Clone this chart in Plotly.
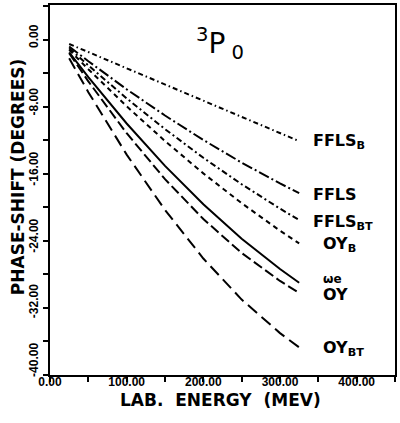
import plotly.graph_objects as go

# ---- data ----
energy = [25, 50, 100, 150, 200, 250, 300, 325]

ffls_b  = [-0.5, -1.47, -3.40, -5.33, -7.27, -9.20, -11.13, -12.1]
ffls    = [-0.8, -2.56, -5.91, -9.04, -11.96, -14.66, -17.14, -18.3]
ffls_bt = [-1.0, -3.06, -6.99, -10.66, -14.08, -17.24, -20.15, -21.5]
oy_b    = [-1.2, -3.52, -7.94, -12.08, -15.94, -19.50, -22.78, -24.3]
we      = [-1.5, -4.45, -9.99, -15.05, -19.63, -23.74, -27.36, -29.0]
oy      = [-1.6, -4.96, -11.15, -16.63, -21.39, -25.44, -28.78, -30.2]
oy_bt   = [-2.2, -6.25, -13.70, -20.30, -26.10, -31.00, -35.00, -36.7]

series = [ffls_b, ffls, ffls_bt, oy_b, we, oy, oy_bt]
series_names = ["FFLS<sub>B</sub>", "FFLS", "FFLS<sub>BT</sub>", "OY<sub>B</sub>",
                "ωe", "OY", "OY<sub>BT</sub>"]
dashes = ["5px,3px,1.5px,3px", "11px,3px,2px,3px", "6px,3px,2px,3px",
          "5px,4px", "solid", "10px,4px", "12px,6px"]

label_x = [341, 341, 341, 354, 354, 354, 354]
label_y = [-12.1, -18.45, -21.8, -24.4, -28.55, -30.4, -36.8]

x_tick_vals = [0, 100, 200, 300, 400]
x_tick_labels = ["0.00", "100.00", "200.00", "300.00", "400.00"]
y_tick_vals = [0, -8, -16, -24, -32, -40]
y_tick_labels = ["0.00", "-8.00", "-16.00", "-24.00", "-32.00", "-40.00"]
# leading non-breaking spaces nudge the rotated labels upward a little
y_tick_pad = [1, 2, 2, 2, 3, 8]
y_tick_text = ["\u00a0" * p + t for p, t in zip(y_tick_pad, y_tick_labels)]

fig = go.Figure()
for ys, name, d in zip(series, series_names, dashes):
    fig.add_trace(go.Scatter(x=energy, y=ys, mode="lines", name=name,
                             line=dict(color="black", width=2, dash=d),
                             showlegend=False, hoverinfo="skip"))

lab_font = dict(family="DejaVu Sans", size=16, color="black", weight="bold")
for name, lx, ly in zip(series_names, label_x, label_y):
    fs = dict(lab_font)
    if name == "ωe":
        fs["size"] = 12
    fig.add_annotation(x=lx, y=ly, xref="x", yref="y", text=name, showarrow=False,
                       xanchor="left", yanchor="middle", font=fs)

# title 3P0
fig.add_annotation(x=222, y=-0.5, xref="x", yref="y",
                   text="<sup>3</sup>P<sub> 0</sub>", showarrow=False,
                   xanchor="center", yanchor="middle",
                   font=dict(family="DejaVu Sans", size=28, color="black"))

# axis titles
fig.add_annotation(x=-0.093, y=-16.4, xref="paper", yref="y",
                   text="PHASE-SHIFT (DEGREES)", textangle=-90, showarrow=False,
                   xanchor="center", yanchor="middle",
                   font=dict(family="DejaVu Sans", size=17, color="black", weight="bold"))
fig.add_annotation(x=222, y=-0.068, xref="x", yref="paper",
                   text="LAB.  ENERGY  (MEV)", showarrow=False,
                   xanchor="center", yanchor="middle",
                   font=dict(family="DejaVu Sans", size=17, color="black", weight="bold"))

tick_font = dict(family="Liberation Sans", size=12, color="black", weight="bold")
fig.update_xaxes(range=[0, 450], showgrid=False, zeroline=False,
                 showline=True, linewidth=2, linecolor="black", mirror=True,
                 tickmode="array", tickvals=x_tick_vals, ticktext=x_tick_labels,
                 ticks="outside", ticklen=5, tickwidth=1.5, tickcolor="black",
                 tickfont=tick_font, ticklabelstandoff=-10,
                 minor=dict(tickmode="linear", tick0=0, dtick=50, ticks="outside",
                            ticklen=5, tickwidth=1.5, tickcolor="black"))
fig.update_yaxes(range=[-40, 4.15], showgrid=False, zeroline=False,
                 showline=True, linewidth=2, linecolor="black", mirror=True,
                 tickmode="array", tickvals=y_tick_vals, ticktext=y_tick_text,
                 ticks="outside", ticklen=5, tickwidth=1.5, tickcolor="black",
                 tickangle=-90, tickfont=tick_font,
                 minor=dict(tickmode="linear", tick0=0, dtick=4, ticks="outside",
                            ticklen=5, tickwidth=1.5, tickcolor="black"))

fig.update_layout(width=400, height=423, margin=dict(l=50, r=3, t=4, b=48),
                  plot_bgcolor="white", paper_bgcolor="white")

fig.write_html("out.html")
